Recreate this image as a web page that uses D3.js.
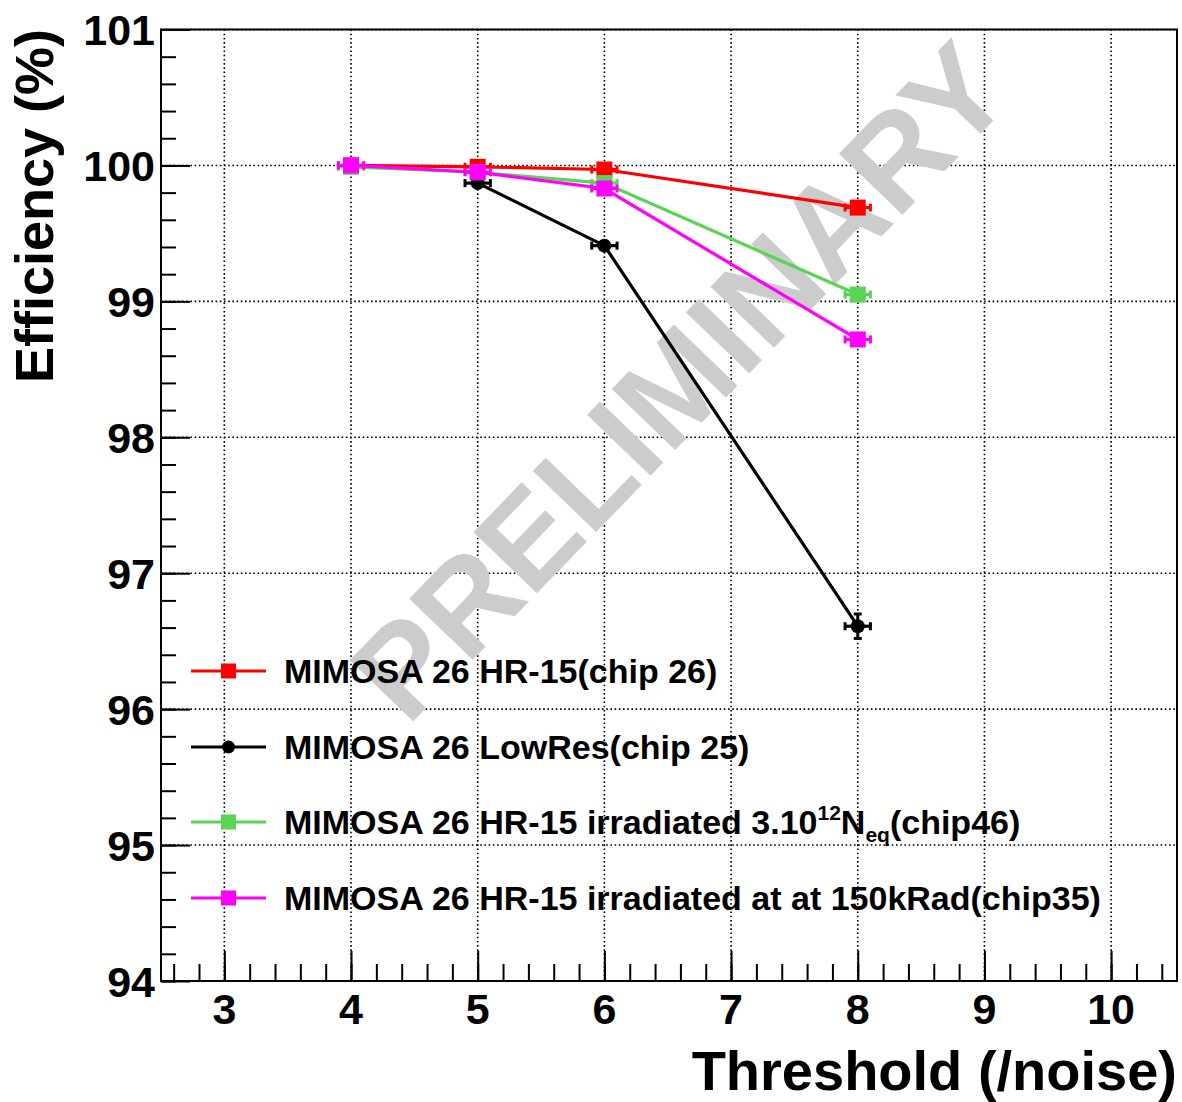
<!DOCTYPE html>
<html>
<head>
<meta charset="utf-8">
<script src="https://cdn.jsdelivr.net/npm/d3@7"></script>
<style>
  body { margin: 0; background: #fff; }
  text { font-family: "Liberation Sans", Arial, sans-serif; }
</style>
</head>
<body>
<div id="container"></div>
<script>
// Data
var xTicks = [3, 4, 5, 6, 7, 8, 9, 10];
var yTicks = [94, 95, 96, 97, 98, 99, 100, 101];

var seriesNames = ["MIMOSA 26 HR-15(chip 26)", "MIMOSA 26 LowRes(chip 25)",
  "MIMOSA 26 HR-15 irradiated 3.10", "MIMOSA 26 HR-15 irradiated at at 150kRad(chip35)"];
var seriesColors = ["#ff0000", "#000000", "#59d454", "#ff00ff"];
var seriesMarkers = ["square", "circle", "square", "square"];

var thrRed = [4, 5, 6, 8];
var effRed = [100.0, 99.99, 99.97, 99.69];
var errRed = [0.005, 0.005, 0.01, 0.02];

var thrBlack = [5, 6, 8];
var effBlack = [99.87, 99.41, 96.61];
var errBlack = [0.01, 0.02, 0.09];

var thrGreen = [4, 5, 6, 8];
var effGreen = [99.99, 99.95, 99.87, 99.05];
var errGreen = [0.005, 0.005, 0.01, 0.02];

var thrMagenta = [4, 5, 6, 8];
var effMagenta = [100.0, 99.95, 99.83, 98.72];
var errMagenta = [0.005, 0.005, 0.01, 0.02];

var thrErr = 0.1; // horizontal error bar half width

var allX = [thrRed, thrBlack, thrGreen, thrMagenta];
var allY = [effRed, effBlack, effGreen, effMagenta];
var allE = [errRed, errBlack, errGreen, errMagenta];

function makeChart() {
  var w = 1182;
  var h = 1102;
  var left = 161, right = 1177, top = 29.5, bottom = 981;

  var svg = d3.select("#container")
    .append("svg")
    .attr("width", w)
    .attr("height", h);

  svg.append("rect").attr("width", w).attr("height", h).attr("fill", "#fff");

  var xScale = d3.scaleLinear().domain([2.5, 10.52]).range([left, right]);
  var yScale = d3.scaleLinear().domain([94, 101]).range([bottom, top]);

  //Grid lines (dotted)
  var grid = svg.append("g").attr("class", "grid");
  grid.selectAll("line.gx")
    .data(xTicks)
    .enter()
    .append("line")
    .attr("x1", function(d) { return xScale(d); })
    .attr("x2", function(d) { return xScale(d); })
    .attr("y1", top)
    .attr("y2", bottom)
    .attr("stroke", "#000")
    .attr("stroke-width", 1.6)
    .attr("stroke-dasharray", "1.6,2.6");
  grid.selectAll("line.gy")
    .data(yTicks)
    .enter()
    .append("line")
    .attr("x1", left)
    .attr("x2", right)
    .attr("y1", function(d) { return yScale(d); })
    .attr("y2", function(d) { return yScale(d); })
    .attr("stroke", "#000")
    .attr("stroke-width", 1.6)
    .attr("stroke-dasharray", "1.6,2.6");

  //Watermark sits on top of the grid
  svg.append("text")
    .text("PRELIMINARY")
    .attr("transform", "translate(712,412) rotate(-46)")
    .attr("text-anchor", "middle")
    .attr("font-size", "128px")
    .attr("font-weight", "bold")
    .attr("fill", "#cccccc");

  //Frame
  svg.append("rect")
    .attr("x", left).attr("y", top)
    .attr("width", right - left).attr("height", bottom - top)
    .attr("fill", "none")
    .attr("stroke", "#000")
    .attr("stroke-width", 2);

  //Ticks drawn with d3 axes, pointing inwards
  var xMinor = d3.range(26, 106, 2).map(function(d) { return d / 10; });
  var yMinor = d3.range(940, 1011, 2).map(function(d) { return d / 10; });

  svg.append("g")
    .attr("transform", "translate(0," + bottom + ")")
    .call(d3.axisTop(xScale).tickValues(xMinor).tickSize(17).tickFormat(""))
    .call(function(g) { g.select(".domain").remove(); g.selectAll("line").attr("stroke-width", 2); });
  svg.append("g")
    .attr("transform", "translate(0," + bottom + ")")
    .call(d3.axisTop(xScale).tickValues(xTicks).tickSize(30).tickFormat(""))
    .call(function(g) { g.select(".domain").remove(); g.selectAll("line").attr("stroke-width", 2); });

  svg.append("g")
    .attr("transform", "translate(" + left + ",0)")
    .call(d3.axisRight(yScale).tickValues(yMinor).tickSize(15).tickFormat(""))
    .call(function(g) { g.select(".domain").remove(); g.selectAll("line").attr("stroke-width", 2); });
  svg.append("g")
    .attr("transform", "translate(" + left + ",0)")
    .call(d3.axisRight(yScale).tickValues(yTicks).tickSize(29).tickFormat(""))
    .call(function(g) { g.select(".domain").remove(); g.selectAll("line").attr("stroke-width", 2); });

  //Tick labels
  svg.selectAll("text.xlab")
    .data(xTicks)
    .enter()
    .append("text")
    .attr("class", "xlab")
    .text(function(d) { return d; })
    .attr("x", function(d) { return xScale(d); })
    .attr("y", 1024)
    .attr("text-anchor", "middle")
    .attr("font-size", "43px")
    .attr("font-weight", "bold");

  svg.selectAll("text.ylab")
    .data(yTicks)
    .enter()
    .append("text")
    .attr("class", "ylab")
    .text(function(d) { return d; })
    .attr("x", 155)
    .attr("y", function(d) { return yScale(d) + 15.5; })
    .attr("text-anchor", "end")
    .attr("font-size", "43px")
    .attr("font-weight", "bold");

  //Axis titles
  svg.append("text")
    .text("Threshold (/noise)")
    .attr("x", 1177)
    .attr("y", 1090)
    .attr("text-anchor", "end")
    .attr("font-size", "56px")
    .attr("font-weight", "bold");

  svg.append("text")
    .text("Efficiency (%)")
    .attr("transform", "translate(53,29) rotate(-90)")
    .attr("text-anchor", "end")
    .attr("font-size", "54px")
    .attr("font-weight", "bold");

  //Series
  var line = d3.line()
    .x(function(d) { return xScale(d[0]); })
    .y(function(d) { return yScale(d[1]); });

  for (var s = 0; s < 4; s++) {
    var pts = allX[s].map(function(x, i) { return [x, allY[s][i], allE[s][i]]; });
    var col = seriesColors[s];
    var g = svg.append("g").attr("class", "series" + s);

    g.append("path")
      .datum(pts)
      .attr("d", line)
      .attr("fill", "none")
      .attr("stroke", col)
      .attr("stroke-width", 3.2);

    //horizontal error bars with end caps
    g.selectAll("line.ex")
      .data(pts)
      .enter()
      .append("line")
      .attr("x1", function(d) { return xScale(d[0] - thrErr); })
      .attr("x2", function(d) { return xScale(d[0] + thrErr); })
      .attr("y1", function(d) { return yScale(d[1]); })
      .attr("y2", function(d) { return yScale(d[1]); })
      .attr("stroke", col)
      .attr("stroke-width", 3.2);
    [-thrErr, thrErr].forEach(function(off) {
      g.selectAll("line.cx" + (off > 0 ? "r" : "l"))
        .data(pts)
        .enter()
        .append("line")
        .attr("x1", function(d) { return xScale(d[0] + off); })
        .attr("x2", function(d) { return xScale(d[0] + off); })
        .attr("y1", function(d) { return yScale(d[1]) - 4; })
        .attr("y2", function(d) { return yScale(d[1]) + 4; })
        .attr("stroke", col)
        .attr("stroke-width", 3);
    });

    //vertical error bars with caps
    g.selectAll("line.ey")
      .data(pts)
      .enter()
      .append("line")
      .attr("x1", function(d) { return xScale(d[0]); })
      .attr("x2", function(d) { return xScale(d[0]); })
      .attr("y1", function(d) { return yScale(d[1] - d[2]); })
      .attr("y2", function(d) { return yScale(d[1] + d[2]); })
      .attr("stroke", col)
      .attr("stroke-width", 3);
    [-1, 1].forEach(function(sign) {
      g.selectAll("line.cy" + sign)
        .data(pts)
        .enter()
        .append("line")
        .attr("x1", function(d) { return xScale(d[0]) - 4; })
        .attr("x2", function(d) { return xScale(d[0]) + 4; })
        .attr("y1", function(d) { return yScale(d[1] + sign * d[2]); })
        .attr("y2", function(d) { return yScale(d[1] + sign * d[2]); })
        .attr("stroke", col)
        .attr("stroke-width", 3);
    });

    //markers
    if (seriesMarkers[s] == "square") {
      g.selectAll("rect")
        .data(pts)
        .enter()
        .append("rect")
        .attr("x", function(d) { return xScale(d[0]) - 8; })
        .attr("y", function(d) { return yScale(d[1]) - 8; })
        .attr("width", 16)
        .attr("height", 16)
        .attr("fill", col);
    } else {
      g.selectAll("circle")
        .data(pts)
        .enter()
        .append("circle")
        .attr("cx", function(d) { return xScale(d[0]); })
        .attr("cy", function(d) { return yScale(d[1]); })
        .attr("r", 7)
        .attr("fill", col);
    }
  }

  //Legend (no box)
  var legY = [671, 747, 822, 898];
  var leg = svg.append("g").attr("class", "legend");
  for (var k = 0; k < 4; k++) {
    var c = seriesColors[k];
    leg.append("line")
      .attr("x1", 191).attr("x2", 266)
      .attr("y1", legY[k]).attr("y2", legY[k])
      .attr("stroke", c).attr("stroke-width", 3);
    if (seriesMarkers[k] == "square") {
      leg.append("rect")
        .attr("x", 228.5 - 7.5).attr("y", legY[k] - 7.5)
        .attr("width", 15).attr("height", 15)
        .attr("fill", c);
    } else {
      leg.append("circle")
        .attr("cx", 228.5).attr("cy", legY[k]).attr("r", 6.5)
        .attr("fill", c);
    }
    var t = leg.append("text")
      .attr("x", 284)
      .attr("y", legY[k] + 12)
      .attr("font-size", "34px")
      .attr("font-weight", "bold")
      .text(seriesNames[k]);
    if (k == 2) {
      t.append("tspan").attr("font-size", "21px").attr("dy", -14).text("12");
      t.append("tspan").attr("dy", 14).text("N");
      t.append("tspan").attr("font-size", "21px").attr("dy", 8).text("eq");
      t.append("tspan").attr("dy", -8).text("(chip46)");
    }
  }
}

makeChart();
</script>
</body>
</html>
